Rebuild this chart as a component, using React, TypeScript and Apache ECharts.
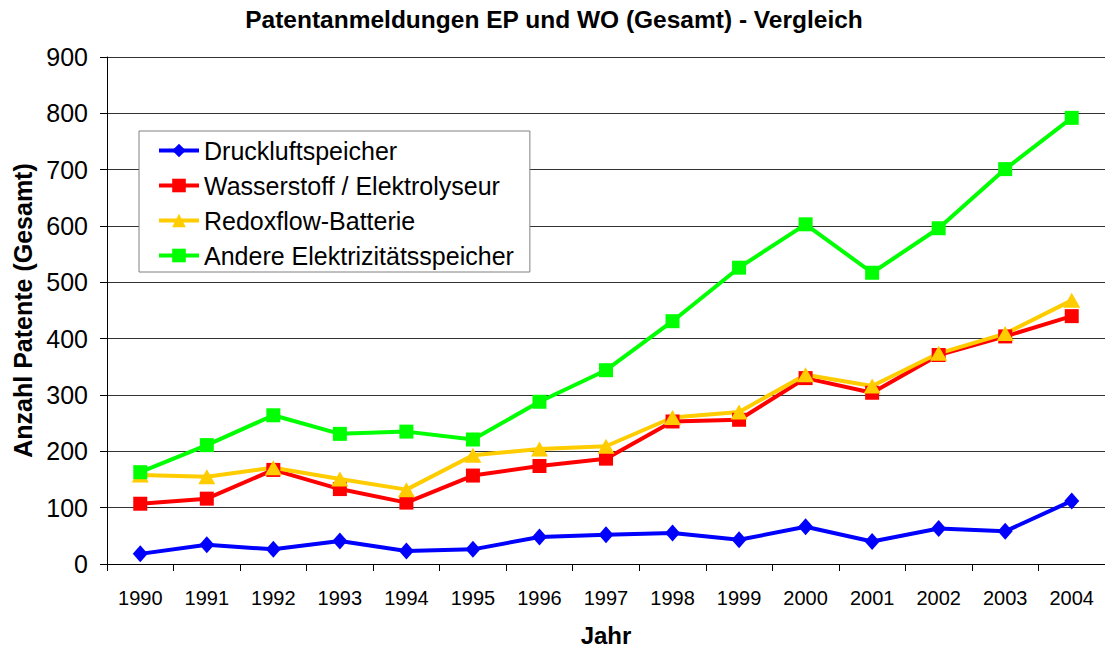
import React, { useEffect, useRef } from "react";
import * as echarts from "echarts";

const years = ["1990","1991","1992","1993","1994","1995","1996","1997","1998","1999","2000","2001","2002","2003","2004"];
const druckluft = [18, 34, 26, 41, 23, 26, 48, 52, 55, 43, 66, 40, 63, 58, 112];
const wasserstoff = [107, 116, 167, 133, 109, 157, 174, 187, 253, 256, 330, 304, 371, 404, 440];
const redoxflow = [158, 155, 171, 151, 132, 193, 204, 209, 260, 270, 336, 316, 374, 409, 468];
const andere = [163, 211, 264, 231, 235, 221, 288, 344, 431, 526, 603, 517, 596, 701, 792];
const yTicks = { min: 0, max: 900, interval: 100 };

const FONT = "'Liberation Sans', Arial, sans-serif";

export default function App() {
  const ref = useRef<HTMLDivElement>(null);
  useEffect(() => {
    if (!ref.current) return;
    const chart = echarts.init(ref.current, null, { renderer: "svg", width: 1105, height: 652 });
    const mk = (name: string, data: number[], color: string, symbol: string, size: any) => ({
      name,
      type: "line",
      data,
      symbol,
      symbolSize: size,
      showAllSymbol: true,
      lineStyle: { color, width: 4 },
      itemStyle: { color },
      emphasis: { disabled: true },
    });
    chart.setOption({
      animation: false,
      backgroundColor: "#ffffff",
      textStyle: { fontFamily: FONT },
      title: {
        text: "Patentanmeldungen EP und WO (Gesamt) - Vergleich",
        left: 549,
        top: 2,
        textAlign: "center",
        textStyle: { fontFamily: FONT, fontSize: 24.5, fontWeight: "bold", color: "#000" },
      },
      legend: {
        orient: "vertical",
        left: 139,
        top: 131,
        padding: [7, 16, 4, 18],
        itemWidth: 40,
        itemHeight: 17,
        itemGap: 10,
        borderColor: "#808080",
        borderWidth: 1,
        backgroundColor: "#fff",
        lineStyle: { width: 4 },
        textStyle: { fontFamily: FONT, fontSize: 25, color: "#000", lineHeight: 25 },
        data: ["Druckluftspeicher", "Wasserstoff / Elektrolyseur", "Redoxflow-Batterie", "Andere Elektrizitätsspeicher"],
      },
      grid: { left: 107, top: 57, width: 1000, height: 513, containLabel: false },
      xAxis: {
        type: "category",
        data: years,
        boundaryGap: true,
        name: "Jahr",
        nameLocation: "middle",
        nameGap: 59,
        nameTextStyle: { fontFamily: FONT, fontSize: 24, fontWeight: "bold", color: "#000" },
        axisLine: { lineStyle: { color: "#000", width: 1 } },
        axisTick: { show: true, length: 7, lineStyle: { color: "#000" } },
        axisLabel: { fontFamily: FONT, fontSize: 20, color: "#000", margin: 24 },
        splitLine: { show: false },
      },
      yAxis: {
        type: "value",
        min: yTicks.min,
        max: yTicks.max,
        interval: yTicks.interval,
        name: "Anzahl Patente (Gesamt)",
        nameLocation: "middle",
        nameRotate: 90,
        nameGap: 72,
        nameTextStyle: { fontFamily: FONT, fontSize: 25, fontWeight: "bold", color: "#000" },
        axisLine: { show: true, lineStyle: { color: "#000", width: 1 } },
        axisTick: { show: true, length: 7, lineStyle: { color: "#000" } },
        axisLabel: { fontFamily: FONT, fontSize: 25, color: "#000", margin: 19 },
        splitLine: { show: true, lineStyle: { color: "#333", width: 1 } },
      },
      series: [
        mk("Druckluftspeicher", druckluft, "#0000FF", "diamond", [15, 17]),
        mk("Wasserstoff / Elektrolyseur", wasserstoff, "#FF0000", "rect", 14),
        mk("Redoxflow-Batterie", redoxflow, "#FFCC00", "triangle", [17, 15]),
        mk("Andere Elektrizitätsspeicher", andere, "#00FF00", "rect", 14),
      ],
    });
    return () => chart.dispose();
  }, []);
  return <div ref={ref} style={{ position: "absolute", left: 0, top: 0, width: 1105, height: 652 }} />;
}
